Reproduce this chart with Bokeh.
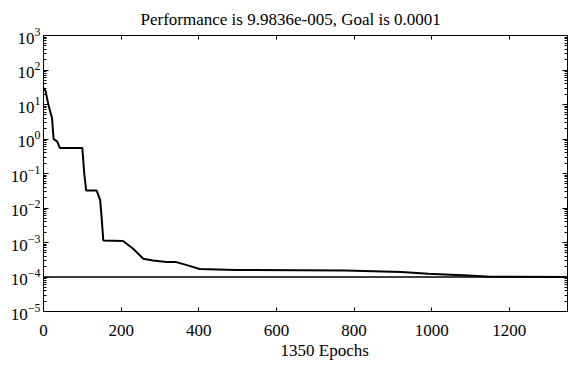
from bokeh.plotting import figure
from bokeh.embed import file_html
from bokeh.resources import INLINE
from bokeh.models import (LogAxis, LinearAxis, FixedTicker, Span, Title,
                          CustomJSTickFormatter, Range1d, LogTickFormatter)

# ---- data ----
epochs = [0, 5, 13, 22, 26, 35, 42, 100, 105, 110, 137, 146, 150, 154, 205,
          231, 257, 282, 317, 342, 376, 402, 496, 778, 922, 991, 1094, 1152, 1350]
perf = [30, 25, 9.5, 4.0, 1.0, 0.85, 0.55, 0.55, 0.1, 0.032, 0.032, 0.017,
        0.005, 0.00115, 0.0011, 0.00066, 0.00034, 0.0003, 0.00027, 0.00027,
        0.00021, 0.00017, 0.00016, 0.000155, 0.00014, 0.000125, 0.00011,
        0.000102, 0.0000998]
goal = 1e-4
n_epochs = 1350
final_perf = "9.9836e-005"
x_ticks = [0, 200, 400, 600, 800, 1000, 1200]
y_ticks = [1e-5, 1e-4, 1e-3, 1e-2, 1e-1, 1e0, 1e1, 1e2, 1e3]
y_minor = [m * d for d in y_ticks[:-1] for m in range(2, 10)]

FONT = "Liberation Serif"
FS = "17px"

p = figure(width=568, height=366, y_axis_type="log",
           x_range=Range1d(0, n_epochs), y_range=Range1d(1e-5, 1e3),
           output_backend="svg", toolbar_location=None,
           min_border_left=43, min_border_right=1,
           min_border_top=35, min_border_bottom=55)

p.title.text = f"Performance is {final_perf}, Goal is {goal:g}"
p.title.text_font = FONT
p.title.text_font_style = "normal"
p.title.text_font_size = FS
p.title.text_color = "black"
p.title.align = "left"
p.title.offset = 97
p.title.standoff = 13

p.grid.visible = False
p.outline_line_color = "black"
p.outline_line_width = 1

xt = FixedTicker(ticks=x_ticks, minor_ticks=[])
yt = FixedTicker(ticks=y_ticks, minor_ticks=y_minor)

xa = p.xaxis[0]
xa.ticker = xt
xa.major_label_text_font = FONT
xa.major_label_text_font_size = FS
xa.major_label_standoff = 13
xa.major_tick_in = 4
xa.major_tick_out = 0
xa.minor_tick_in = 0
xa.minor_tick_out = 0
xa.axis_line_color = "black"
xa.major_tick_line_color = "black"
xa.major_label_text_color = "black"

ya = p.yaxis[0]
ya.ticker = yt
ya.formatter = LogTickFormatter()
ya.major_label_text_font = FONT
ya.major_label_text_font_size = FS
ya.major_label_standoff = 3
ya.major_tick_in = 5
ya.major_tick_out = 0
ya.minor_tick_in = 3
ya.minor_tick_out = 0
ya.axis_line_color = "black"
ya.major_tick_line_color = "black"
ya.minor_tick_line_color = "black"
ya.major_label_text_color = "black"

blank = CustomJSTickFormatter(code="return ''")
top = LinearAxis(ticker=xt, formatter=blank, major_label_text_font_size="0px",
                 major_label_standoff=0, major_tick_in=4, major_tick_out=0,
                 minor_tick_in=0, minor_tick_out=0, axis_line_color="black")
right = LogAxis(ticker=yt, formatter=blank, major_label_text_font_size="0px",
                major_label_standoff=0, major_tick_in=5, major_tick_out=0,
                minor_tick_in=3, minor_tick_out=0, axis_line_color="black")
p.add_layout(top, "above")
p.add_layout(right, "right")

p.add_layout(Title(text=f"{n_epochs} Epochs", text_font=FONT,
                   text_font_style="normal", text_font_size=FS,
                   text_color="black",
                   align="left", offset=237, standoff=0), "below")

p.line(epochs, perf, line_color="black", line_width=2)
p.add_layout(Span(location=goal, dimension="width", line_color="black",
                  line_width=1.5))

open("out.html", "w").write(file_html(p, INLINE))
